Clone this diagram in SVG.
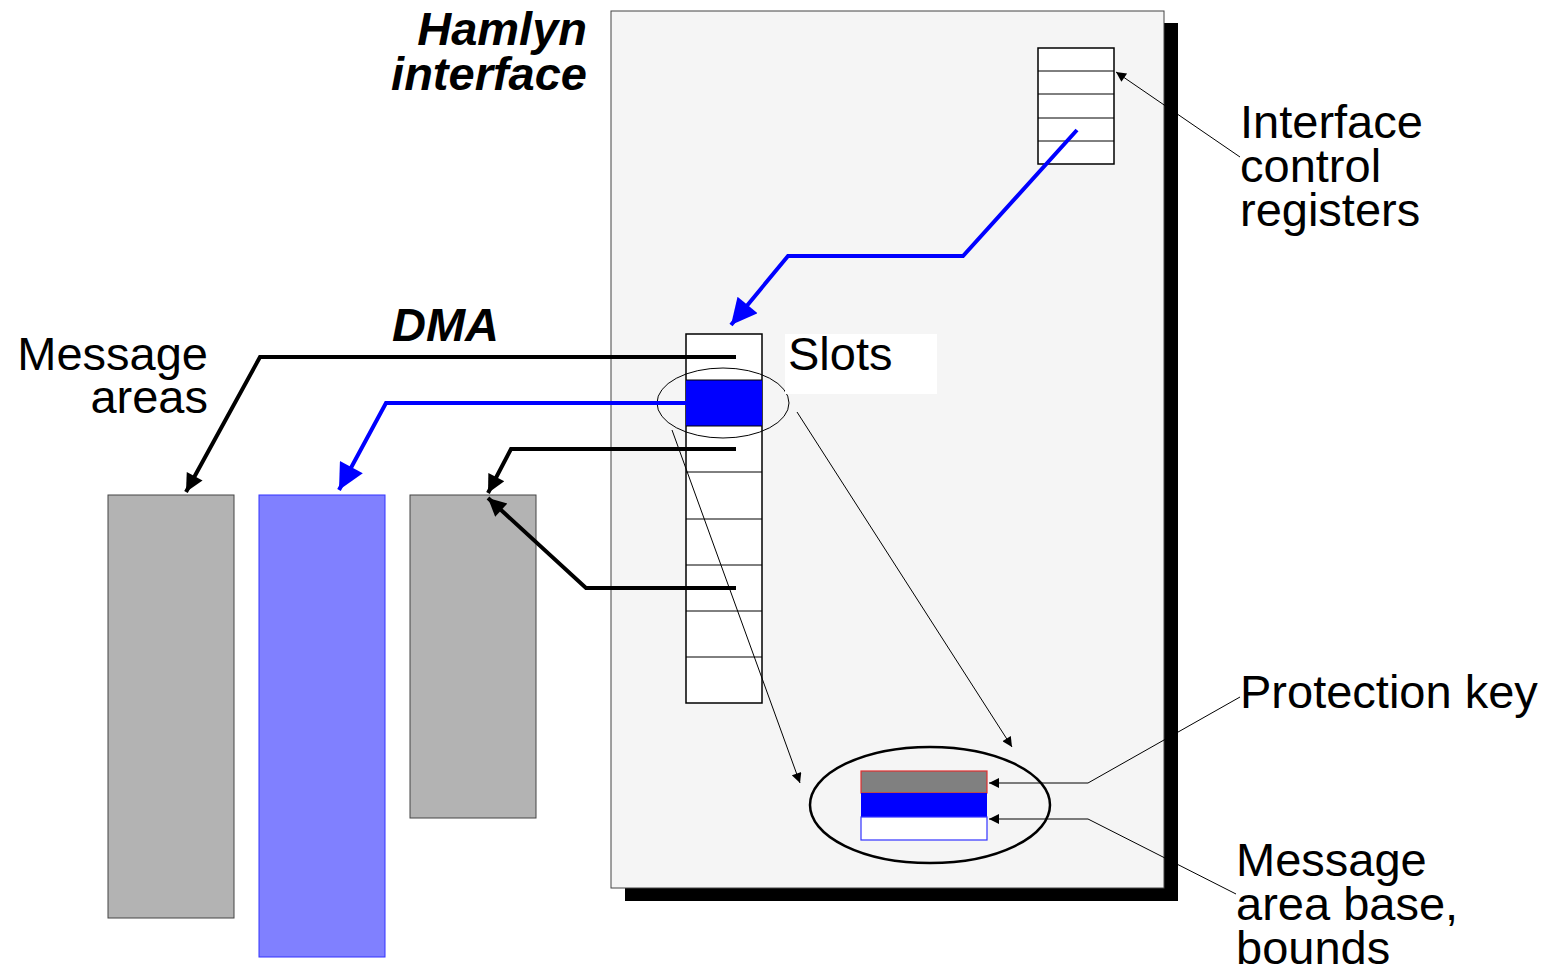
<svg xmlns="http://www.w3.org/2000/svg" width="1554" height="971" viewBox="0 0 1554 971">
<defs>
<marker id="ah" viewBox="0 0 10 10" refX="10" refY="5" markerWidth="12" markerHeight="10" markerUnits="userSpaceOnUse" orient="auto"><path d="M0,0 L10,5 L0,10 z" fill="#000"/></marker>
<marker id="ahb" viewBox="0 0 10 10" refX="10" refY="5" markerWidth="22" markerHeight="18" markerUnits="userSpaceOnUse" orient="auto"><path d="M0,0 L10,5 L0,10 z" fill="#000"/></marker>
<marker id="ahblue" viewBox="0 0 10 10" refX="10" refY="5" markerWidth="32" markerHeight="26" markerUnits="userSpaceOnUse" orient="auto"><path d="M0,0 L10,5 L0,10 z" fill="#0000ff"/></marker>
</defs>
<style>
text{font-family:"Liberation Sans",Arial,sans-serif;font-size:47px;fill:#000}
.bi{font-weight:bold;font-style:italic}
.thin{fill:none;stroke:#000;stroke-width:1}
.thick{fill:none;stroke:#000;stroke-width:4}
.blue{fill:none;stroke:#0000ff;stroke-width:4}
.cell{fill:#fff;stroke:#000;stroke-width:1.5}
</style>
<rect width="1554" height="971" fill="#fff"/>
<g id="interface">
<rect x="625" y="23" width="553" height="878" fill="#000"/>
<rect x="611" y="11" width="553" height="877" fill="#f5f5f5" stroke="#444" stroke-width="1"/>
</g>
<g id="registers">
<rect class="cell" x="1038" y="48" width="76" height="116"/>
<path class="thin" d="M1038,71H1114M1038,94H1114M1038,118H1114M1038,141H1114" stroke-width="1.5"/>
</g>
<g id="slots">
<rect class="cell" x="686" y="334" width="76" height="369" stroke-width="2"/>
<rect x="686" y="380" width="76" height="46" fill="#0000ff"/>
<path class="thin" d="M686,380H762M686,426H762M686,472H762M686,519H762M686,565H762M686,611H762M686,657H762" stroke-width="1.5"/>
<ellipse cx="723" cy="403" rx="66" ry="35" class="thin"/>
</g>
<g id="slots-label">
<rect x="785" y="334" width="152" height="60" fill="#fff"/>
<text x="788" y="370">Slots</text>
</g>
<g id="msg-areas">
<rect x="108" y="495" width="126" height="423" fill="#b3b3b3" stroke="#444" stroke-width="1"/>
<rect x="259" y="495" width="126" height="462" fill="#8080ff" stroke="#3333ff" stroke-width="1"/>
<rect x="410" y="495" width="126" height="323" fill="#b3b3b3" stroke="#444" stroke-width="1"/>
</g>
<g id="descriptor">
<ellipse cx="930" cy="805" rx="120" ry="58" fill="none" stroke="#000" stroke-width="2.5"/>
<rect x="861" y="771" width="126" height="22" fill="#808080" stroke="#e03030" stroke-width="1.2"/>
<rect x="861" y="793" width="126" height="24" fill="#0000ff"/>
<rect x="861" y="817" width="126" height="23" fill="#fff" stroke="#3333ff" stroke-width="1.2"/>
</g>
<g id="connectors">
<polyline class="blue" points="1077,130 963,256 788,256 731,325" marker-end="url(#ahblue)"/>
<polyline class="thin" points="1240,157 1116,72" marker-end="url(#ah)"/>
<polyline class="thick" points="736,357 260,357 186,492" marker-end="url(#ahb)"/>
<polyline class="blue" points="686,403 386,403 339,490" marker-end="url(#ahblue)"/>
<polyline class="thick" points="736,449 511,449 488,493" marker-end="url(#ahb)"/>
<polyline class="thick" points="736,588 586,588 488,498" marker-end="url(#ahb)"/>
<line class="thin" x1="672" y1="430" x2="800" y2="783" marker-end="url(#ah)"/>
<line class="thin" x1="797" y1="412" x2="1012" y2="747" marker-end="url(#ah)"/>
<polyline class="thin" points="1240,697 1088,783 989,783" marker-end="url(#ah)"/>
<polyline class="thin" points="1236,894 1088,819 989,819" marker-end="url(#ah)"/>
</g>
<g id="labels">
<text class="bi" x="587" y="45" text-anchor="end">Hamlyn</text>
<text class="bi" x="587" y="90" text-anchor="end">interface</text>
<text class="bi" x="392" y="341">DMA</text>
<text x="208" y="370" text-anchor="end">Message</text>
<text x="208" y="413" text-anchor="end">areas</text>
<text x="1240" y="138">Interface</text>
<text x="1240" y="182">control</text>
<text x="1240" y="226">registers</text>
<text x="1240" y="708">Protection key</text>
<text x="1236" y="876">Message</text>
<text x="1236" y="920">area base,</text>
<text x="1236" y="964">bounds</text>
</g>
</svg>
